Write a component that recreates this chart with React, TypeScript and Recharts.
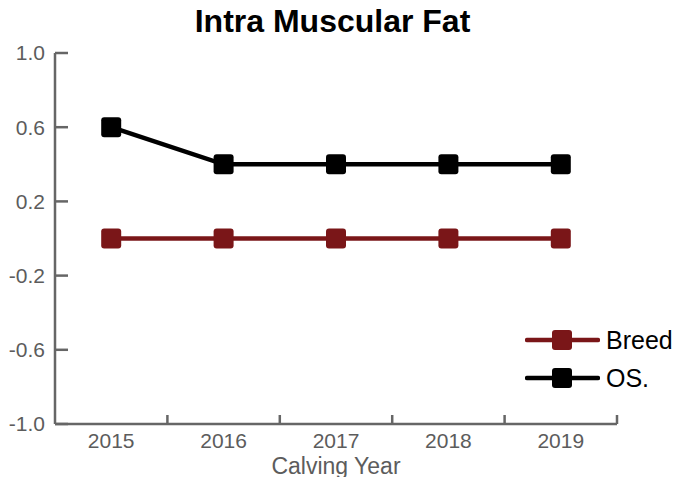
import React from 'react';
import { LineChart, Line, XAxis, YAxis, Legend } from 'recharts';

const years = [2015, 2016, 2017, 2018, 2019];
const breedValues = [0, 0, 0, 0, 0];
const osValues = [0.6, 0.4, 0.4, 0.4, 0.4];
const yTicks = [-1, -0.6, -0.2, 0.2, 0.6, 1];
const seriesNames = ['Breed', 'OS.'];
const title = 'Intra Muscular Fat';
const xTitle = 'Calving Year';

const BREED_COLOR = '#7a1618';
const OS_COLOR = '#000000';
const AXIS = '#666666';
const TEXT = '#5c5c5c';
const FONT = '"Liberation Sans", Arial, Helvetica, sans-serif';

const data = years.map((year, i) => ({ year, breed: breedValues[i], os: osValues[i] }));
const xDomain = [years[0] - 0.5, years[years.length - 1] + 0.5];
const boundaryTicks = years.map((y) => y + 0.5);

const series = [
  { key: 'breed', name: seriesNames[0], color: BREED_COLOR },
  { key: 'os', name: seriesNames[1], color: OS_COLOR },
];

const makeDot = (color: string) => (props: any) => {
  const { cx, cy, index } = props;
  if (cx == null || cy == null) return <g key={`e-${index}`} />;
  return (
    <rect key={`d-${index}`} x={cx - 10} y={cy - 10} width={20} height={20} rx={3} ry={3} fill={color} />
  );
};

const renderLegend = () => (
  <div style={{ fontFamily: FONT }}>
    {series.map((s) => (
      <div key={s.key} style={{ display: 'flex', alignItems: 'center', height: 38 }}>
        <svg width={75} height={24} style={{ display: 'block' }}>
          <line x1={2} y1={12} x2={73} y2={12} stroke={s.color} strokeWidth={4.5} strokeLinecap="round" />
          <rect x={27} y={2} width={20} height={20} rx={3} ry={3} fill={s.color} />
        </svg>
        <span style={{ marginLeft: 6, fontSize: 25, color: '#000', lineHeight: '38px' }}>{s.name}</span>
      </div>
    ))}
  </div>
);

export default function App() {
  return (
    <div style={{ position: 'absolute', left: 0, top: 0, width: 678, height: 477 }}>
      <div
        style={{
          position: 'absolute',
          left: 0,
          top: 5,
          width: 665,
          textAlign: 'center',
          fontFamily: FONT,
          fontWeight: 'bold',
          fontSize: 32,
          lineHeight: '32px',
          color: '#000',
          zIndex: 2,
        }}
      >
        {title}
      </div>
      <LineChart width={678} height={477} data={data} margin={{ top: 53, right: 61, left: 0, bottom: 0 }}>
        <XAxis
          xAxisId="bounds"
          dataKey="year"
          type="number"
          domain={xDomain}
          ticks={boundaryTicks}
          height={1}
          axisLine={{ stroke: AXIS, strokeWidth: 2.5 }}
          tickLine={{ stroke: AXIS, strokeWidth: 2.5 }}
          tickSize={-9}
          tickFormatter={() => ''}
          allowDataOverflow
        />
        <XAxis
          xAxisId="labels"
          dataKey="year"
          type="number"
          domain={xDomain}
          ticks={years}
          height={52}
          axisLine={false}
          tickLine={false}
          tickSize={6}
          tickMargin={2}
          tick={{ fill: TEXT, fontSize: 21, fontFamily: FONT }}
          label={{ value: xTitle, position: 'insideBottom', offset: 3, fill: TEXT, fontSize: 23, fontFamily: FONT }}
          allowDataOverflow
        />
        <YAxis
          type="number"
          domain={[-1, 1]}
          ticks={yTicks}
          width={55}
          axisLine={{ stroke: AXIS, strokeWidth: 2.5 }}
          tickLine={{ stroke: AXIS, strokeWidth: 2.5 }}
          tickSize={-13}
          tickMargin={23}
          tickFormatter={(v: number) => v.toFixed(1)}
          tick={{ fill: TEXT, fontSize: 21, fontFamily: FONT }}
          allowDataOverflow
        />
        <Legend
          layout="vertical"
          align="center"
          verticalAlign="middle"
          content={renderLegend}
          wrapperStyle={{ left: 525, top: 321, width: 160 }}
        />
        <Line
          xAxisId="bounds"
          dataKey="breed"
          stroke="none"
          dot={false}
          activeDot={false}
          legendType="none"
          isAnimationActive={false}
        />
        {series.map((s) => (
          <Line
            key={s.key}
            xAxisId="labels"
            dataKey={s.key}
            name={s.name}
            stroke={s.color}
            strokeWidth={4.5}
            dot={makeDot(s.color)}
            activeDot={false}
            isAnimationActive={false}
          />
        ))}
      </LineChart>
    </div>
  );
}
